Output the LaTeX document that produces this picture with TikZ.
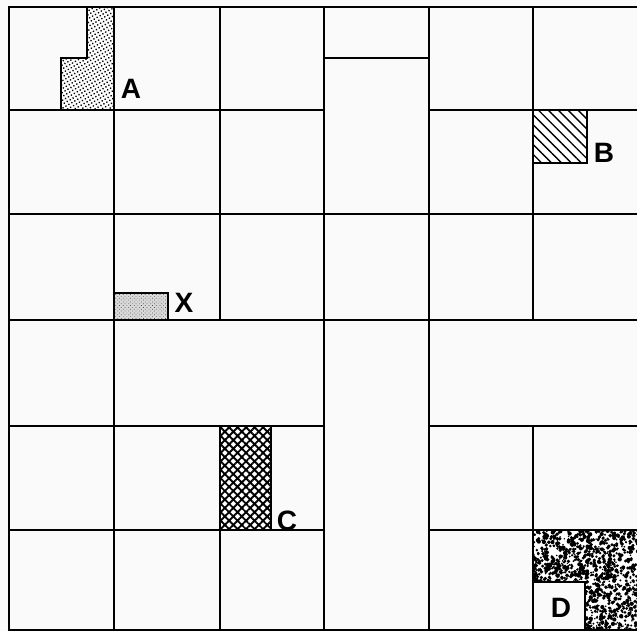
\documentclass[tikz,border=0pt]{standalone}
\usepackage{fontspec}
\setmainfont{Liberation Sans}
\usetikzlibrary{patterns.meta}
\begin{document}
\begin{tikzpicture}[x=1pt,y=-1pt,
  gridline/.style={line width=2.2pt,line cap=rect},
  lbl/.style={font=\fontsize{28}{28}\selectfont\bfseries,inner sep=0pt},
  shapeline/.style={line width=1.8pt}]
\useasboundingbox (0,0) rectangle (637,631);
\fill[white!98!black] (0,0) rectangle (637,631);
% shape A (dotted L)
\fill[white] (87,7) -- (114,7) -- (114,110) -- (61,110) -- (61,58) -- (87,58) -- cycle;
\pattern[pattern={Dots[distance=3.4pt,radius=0.95pt,angle=30]}] (87,7) -- (114,7) -- (114,110) -- (61,110) -- (61,58) -- (87,58) -- cycle;
\draw[shapeline] (87,7) -- (87,58) -- (61,58) -- (61,110);
% shape B (hatched)
\fill[white] (533,110) rectangle (587,163);
\pattern[pattern={Lines[angle=-45,distance=7pt,line width=1.4pt]}] (533,110) rectangle (587,163);
\draw[shapeline] (533,110) rectangle (587,163);
% shape X (light dots)
\fill[white!85!black] (114,293) rectangle (168,320);
\pattern[pattern={Dots[distance=2.6pt,radius=0.5pt,angle=45]},pattern color=black!70] (114,293) rectangle (168,320);
\draw[shapeline] (114,293) rectangle (168,320);
% shape C (crosshatch)
\fill[white] (220,426) rectangle (271,530);
\pattern[pattern={Hatch[angle=45,distance=6pt,line width=1.9pt]}] (220,426) rectangle (271,530);
\draw[shapeline] (220,426) rectangle (271,530);
% shape D (speckled)
\begin{scope}
\clip (533,530) -- (640,530) -- (640,631) -- (585,631) -- (585,582) -- (533,582) -- cycle;
\fill[white] (533,530) rectangle (640,631);
\pgfmathsetseed{7}
\foreach \i in {1,...,1500}{
  \pgfmathsetmacro\px{530+110*rnd}
  \pgfmathsetmacro\py{528+104*rnd}
  \pgfmathsetmacro\rr{0.8+1.4*rnd}
  \fill[black] (\px,\py) circle (\rr pt);
}
\end{scope}
\draw[shapeline] (533,582) -- (585,582) -- (585,631);
% grid
\draw[gridline] (9,7) -- (637,7);
\draw[gridline] (324,58) -- (429,58);
\draw[gridline] (9,110) -- (324,110);
\draw[gridline] (429,110) -- (637,110);
\draw[gridline] (9,214) -- (637,214);
\draw[gridline] (9,320) -- (637,320);
\draw[gridline] (9,426) -- (324,426);
\draw[gridline] (429,426) -- (637,426);
\draw[gridline] (9,530) -- (324,530);
\draw[gridline] (429,530) -- (637,530);
\draw[gridline] (9,630) -- (637,630);
\draw[gridline] (9,7) -- (9,630);
\draw[gridline] (114,7) -- (114,630);
\draw[gridline] (220,7) -- (220,320);
\draw[gridline] (220,426) -- (220,630);
\draw[gridline] (324,7) -- (324,630);
\draw[gridline] (429,7) -- (429,630);
\draw[gridline] (533,7) -- (533,320);
\draw[gridline] (533,426) -- (533,630);
% labels
\node[lbl] (la) at (131,89) {A};
\node[lbl] (lb) at (604,153) {B};
\node[lbl] (lx) at (184,302.5) {X};
\node[lbl] (lc) at (287,521) {C};
\node[lbl] (ld) at (561,608) {D};
\end{tikzpicture}
\end{document}
